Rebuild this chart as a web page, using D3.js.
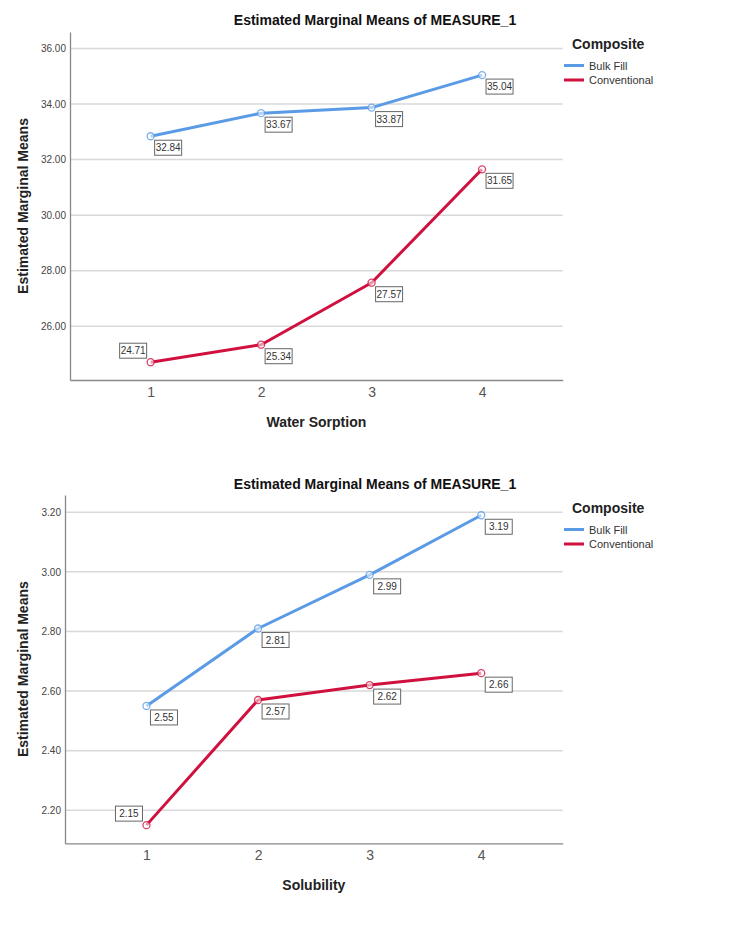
<!DOCTYPE html>
<html>
<head>
<meta charset="utf-8">
<script src="https://cdn.jsdelivr.net/npm/d3@7"></script>
<style>
  html, body { margin: 0; padding: 0; background: #fff; }
  svg { display: block; font-family: "Liberation Sans", Arial, sans-serif; }
</style>
</head>
<body>
<svg id="chart" width="750" height="928"></svg>
<script>
// ---- data ----
const levels = [1, 2, 3, 4];
const seriesNames = ["Bulk Fill", "Conventional"];
const seriesColors = ["#5b9be6", "#d0103f"];

const sorptionBulkFill = [32.84, 33.67, 33.87, 35.04];
const sorptionConventional = [24.71, 25.34, 27.57, 31.65];
const sorptionTicks = [26, 28, 30, 32, 34, 36];

const solubilityBulkFill = [2.55, 2.81, 2.99, 3.19];
const solubilityConventional = [2.15, 2.57, 2.62, 2.66];
const solubilityTicks = [2.2, 2.4, 2.6, 2.8, 3.0, 3.2];

const chartTitle = "Estimated Marginal Means of MEASURE_1";
const yTitle = "Estimated Marginal Means";
const legendTitle = "Composite";

const charts = [
  { xTitle: "Water Sorption", series: [sorptionBulkFill, sorptionConventional], ticks: sorptionTicks,
    yDomain: [24.07, 36.59], left: 70, right: 562.7, top: 32, bottom: 380, titleY: 25, legendY: 44 },
  { xTitle: "Solubility", series: [solubilityBulkFill, solubilityConventional], ticks: solubilityTicks,
    yDomain: [2.089, 3.258], left: 65, right: 562.7, top: 495, bottom: 843.3, titleY: 489, legendY: 508 }
];

const svg = d3.select("#chart");

charts.forEach(c => {
  const g = svg.append("g");
  const x = d3.scaleLinear().domain([0.27, 4.73]).range([c.left, c.right]);
  const y = d3.scaleLinear().domain(c.yDomain).range([c.bottom, c.top]);

  // title
  g.append("text").attr("x", 375).attr("y", c.titleY).attr("text-anchor", "middle")
    .attr("font-size", 14).attr("font-weight", "bold").attr("fill", "#111").text(chartTitle);

  // gridlines
  g.append("g").selectAll("line").data(c.ticks).join("line")
    .attr("x1", c.left).attr("x2", c.right)
    .attr("y1", d => y(d)).attr("y2", d => y(d))
    .attr("stroke", "#d9d9d9").attr("stroke-width", 1.5);

  // y axis
  const yAxis = d3.axisLeft(y).tickValues(c.ticks).tickFormat(d3.format(".2f")).tickSize(0).tickPadding(4);
  const ya = g.append("g").attr("transform", `translate(${c.left},0)`).call(yAxis);
  ya.select(".domain").attr("stroke", "#888").attr("stroke-width", 1.3);
  ya.selectAll("text").attr("font-size", 10).attr("fill", "#444").attr("font-family", "Liberation Sans, Arial, sans-serif");

  // x axis
  const xAxis = d3.axisBottom(x).tickValues(levels).tickFormat(d3.format("d")).tickSize(0).tickPadding(7);
  const xa = g.append("g").attr("transform", `translate(0,${c.bottom})`).call(xAxis);
  xa.select(".domain").attr("stroke", "#888").attr("stroke-width", 1.3);
  xa.selectAll("text").attr("font-size", 14).attr("fill", "#555").attr("font-family", "Liberation Sans, Arial, sans-serif");

  // axis titles
  g.append("text").attr("x", (c.left + c.right) / 2).attr("y", c.bottom + 47).attr("text-anchor", "middle")
    .attr("font-size", 14).attr("font-weight", "bold").attr("fill", "#222").text(c.xTitle);
  g.append("text").attr("transform", `translate(28,${(c.top + c.bottom) / 2}) rotate(-90)`)
    .attr("text-anchor", "middle").attr("font-size", 14).attr("font-weight", "bold").attr("fill", "#222").text(yTitle);

  // lines
  const line = d3.line().x((d, i) => x(levels[i])).y(d => y(d));
  c.series.forEach((s, si) => {
    g.append("path").datum(s).attr("d", line).attr("fill", "none")
      .attr("stroke", seriesColors[si]).attr("stroke-width", 3).attr("stroke-linejoin", "round");
    g.append("g").selectAll("circle").data(s).join("circle")
      .attr("cx", (d, i) => x(levels[i])).attr("cy", d => y(d)).attr("r", 3.5)
      .attr("fill", "#fff").attr("fill-opacity", 0.55)
      .attr("stroke", seriesColors[si]).attr("stroke-width", 1.3).attr("stroke-opacity", 0.8);
  });

  // value labels
  c.series.forEach((s, si) => {
    s.forEach((v, i) => {
      const px = x(levels[i]), py = y(v);
      const txt = v.toFixed(2);
      const w = 27, h = 15;
      let bx = px + 4, by = py + 4;
      if (by + h > c.bottom) { bx = px - 4 - w; by = py - 4 - h; }
      g.append("rect").attr("x", bx).attr("y", by).attr("width", w).attr("height", h)
        .attr("fill", "#fff").attr("stroke", "#666").attr("stroke-width", 1);
      g.append("text").attr("x", bx + w / 2).attr("y", by + h / 2 + 3.6).attr("text-anchor", "middle")
        .attr("font-size", 10).attr("fill", "#333").text(txt);
    });
  });

  // legend
  const lg = g.append("g");
  lg.append("text").attr("x", 572).attr("y", c.legendY + 5).attr("font-size", 14).attr("font-weight", "bold")
    .attr("fill", "#222").text(legendTitle);
  seriesNames.forEach((n, i) => {
    const ly = c.legendY + 21.5 + i * 14.5;
    lg.append("line").attr("x1", 564).attr("x2", 584).attr("y1", ly).attr("y2", ly)
      .attr("stroke", seriesColors[i]).attr("stroke-width", 3);
    lg.append("text").attr("x", 589).attr("y", ly + 4).attr("font-size", 11).attr("fill", "#333").text(n);
  });
});
</script>
</body>
</html>
